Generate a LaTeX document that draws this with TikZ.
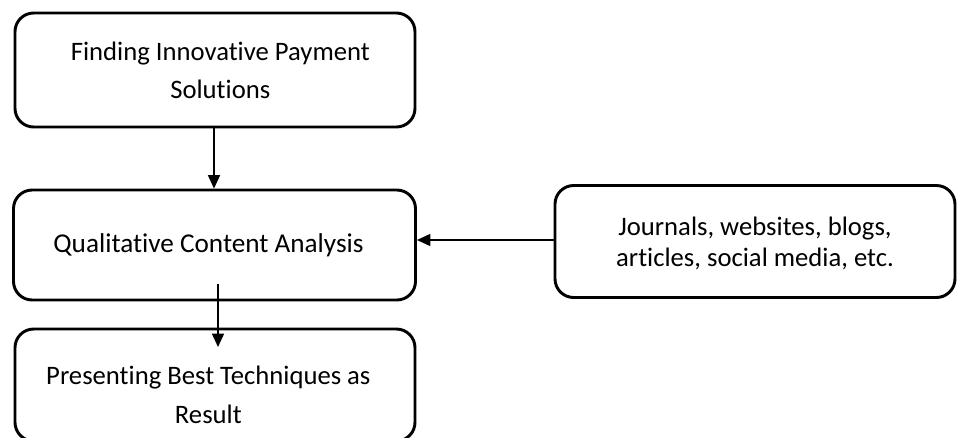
\documentclass[tikz,border=0pt]{standalone}
\usepackage{fontspec}
\setmainfont{Carlito}[RawFeature=-liga]
\usetikzlibrary{arrows.meta}
\tikzset{
  box/.style={draw=black, line width=2.2pt, rounded corners=14pt, align=center,
    font=\fontsize{20}{23.25}\selectfont, inner sep=0pt},
  wide/.style={font=\fontsize{20}{28.5}\selectfont},
  flat/.style={text height=0pt, text depth=0pt},
  arr/.style={draw=black, line width=1.1pt, -{Triangle[length=10pt,width=9pt]}}
}
\begin{document}
\begin{tikzpicture}[x=0.75pt,y=-0.75pt]
\useasboundingbox (0,0) rectangle (960,437);
\clip (0,0) rectangle (960,437);
\node[box, wide, minimum width=400*0.75pt, minimum height=114*0.75pt] (f) at (215,70)
  {\kern8pt Finding Innovative Payment\\\kern8pt Solutions};
\node[box, font=\fontsize{20.4}{24}\selectfont, minimum width=402*0.75pt, minimum height=110*0.75pt] (q) at (214.5,245)
  {\kern-9pt Qualitative Content Analysis};
\node[box, flat, minimum width=400*0.75pt, minimum height=112*0.75pt] (j) at (755,241.5)
  {\raisebox{-8pt}{\begin{tabular}{@{}c@{}}Journals, websites, blogs,\\articles, social media, etc.\end{tabular}}};
\node[box, flat, font=\fontsize{20}{26}\selectfont, minimum width=400*0.75pt, minimum height=112*0.75pt] (p) at (215,385)
  {\raisebox{-14.3pt}{\begin{tabular}{@{}c@{}}\kern-10pt Presenting Best Techniques as\\[3pt]\kern-10pt Result\end{tabular}}};
\coordinate (a2s) at (218,284);
\coordinate (a2e) at (218,347);
\draw[arr] (f.south -| 214,0) -- (214,0 |- q.north);
\draw[arr] (j.west |- 0,240) -- (q.east |- 0,240);
\draw[arr] (a2s) -- (a2e);
\end{tikzpicture}
\end{document}
